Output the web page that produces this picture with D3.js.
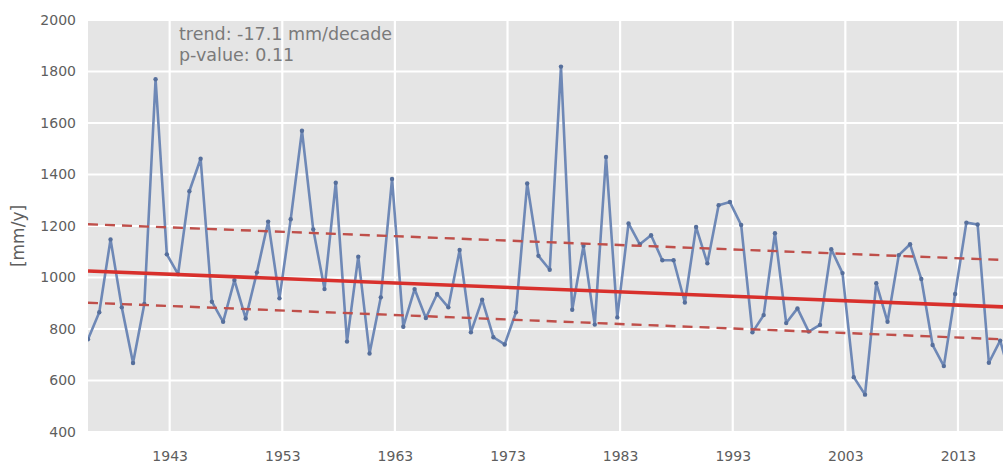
<!DOCTYPE html>
<html>
<head>
<meta charset="utf-8">
<script src="https://cdn.jsdelivr.net/npm/d3@7"></script>
<style>
  html, body { margin: 0; padding: 0; background: #ffffff; }
  svg { display: block; font-family: "DejaVu Sans", sans-serif; }
</style>
</head>
<body>
<svg id="chart" width="1003" height="465"></svg>
<script>
// Annual precipitation totals per hydrological year (Oct 1 of previous year)
const years = [
  1936, 1937, 1938, 1939, 1940, 1941, 1942, 1943, 1944, 1945,
  1946, 1947, 1948, 1949, 1950, 1951, 1952, 1953, 1954, 1955,
  1956, 1957, 1958, 1959, 1960, 1961, 1962, 1963, 1964, 1965,
  1966, 1967, 1968, 1969, 1970, 1971, 1972, 1973, 1974, 1975,
  1976, 1977, 1978, 1979, 1980, 1981, 1982, 1983, 1984, 1985,
  1986, 1987, 1988, 1989, 1990, 1991, 1992, 1993, 1994, 1995,
  1996, 1997, 1998, 1999, 2000, 2001, 2002, 2003, 2004, 2005,
  2006, 2007, 2008, 2009, 2010, 2011, 2012, 2013, 2014, 2015,
  2016, 2017, 2018
];
const precip = [
  760, 865, 1148, 884, 668, 897, 1770, 1090, 1013, 1335,
  1461, 906, 828, 990, 841, 1020, 1217, 919, 1226, 1570,
  1187, 955, 1368, 751, 1081, 705, 923, 1383, 809, 955,
  843, 936, 884, 1107, 787, 914, 768, 740, 865, 1365,
  1084, 1030, 1819, 875, 1123, 817, 1468, 845, 1210, 1129,
  1164, 1067, 1067, 903, 1196, 1055, 1281, 1293, 1204, 787,
  854, 1172, 823, 880, 790, 816, 1110, 1017, 613, 545,
  978, 828, 1087, 1129, 994, 738, 656, 936, 1213, 1206,
  669, 755, 600
];

// Linear trend and its band, given as values at the two ends of the x range
const trendEnds = [1025, 886];
const upperEnds = [1207, 1068];
const lowerEnds = [902, 760];
const trendText = ["trend: -17.1 mm/decade", "p-value: 0.11"];

const xTickYears = [1943, 1953, 1963, 1973, 1983, 1993, 2003, 2013];
const yTicks = [400, 600, 800, 1000, 1200, 1400, 1600, 1800, 2000];
const yLabel = "[mm/y]";

const svg = d3.select("#chart");
const W = 1003, H = 465;
const plot = { left: 88, top: 20, right: 1003, bottom: 432 };
const textColor = "#5e5e5e";

const hydroDate = y => new Date(y - 1, 9, 1);
const xStart = hydroDate(years[0]);
const xEnd = new Date(2017, 0, 1);

const x = d3.scaleTime().domain([xStart, xEnd]).range([plot.left, plot.right]);
const y = d3.scaleLinear().domain([400, 2000]).range([plot.bottom, plot.top]);

// plot background
svg.append("rect")
  .attr("x", plot.left).attr("y", plot.top)
  .attr("width", plot.right - plot.left + 40)
  .attr("height", plot.bottom - plot.top)
  .attr("fill", "#e5e5e5");

svg.append("defs").append("clipPath").attr("id", "plotclip")
  .append("rect")
  .attr("x", plot.left).attr("y", plot.top)
  .attr("width", plot.right - plot.left + 40)
  .attr("height", plot.bottom - plot.top);

// grid
const grid = svg.append("g");
grid.selectAll("line.h").data(yTicks).join("line")
  .attr("class", "h")
  .attr("x1", plot.left).attr("x2", W + 10)
  .attr("y1", d => y(d)).attr("y2", d => y(d))
  .attr("stroke", "#ffffff").attr("stroke-width", 2.2);
grid.selectAll("line.v").data(xTickYears).join("line")
  .attr("class", "v")
  .attr("x1", d => x(new Date(d, 0, 1))).attr("x2", d => x(new Date(d, 0, 1)))
  .attr("y1", plot.top).attr("y2", plot.bottom)
  .attr("stroke", "#ffffff").attr("stroke-width", 2.2);

// axes (labels only, no domain line or tick marks)
const yAxis = d3.axisLeft(y).tickValues(yTicks).tickSize(0).tickPadding(12).tickFormat(d3.format("d"));
svg.append("g").attr("transform", `translate(${plot.left},0)`).call(yAxis)
  .call(g => g.select(".domain").remove())
  .call(g => g.selectAll("text")
    .attr("font-family", "'DejaVu Sans', sans-serif")
    .attr("font-size", 14).attr("fill", textColor));

const xAxis = d3.axisBottom(x).tickValues(xTickYears.map(d => new Date(d, 0, 1)))
  .tickSize(0).tickPadding(19).tickFormat(d3.timeFormat("%Y"));
svg.append("g").attr("transform", `translate(0,${plot.bottom})`).call(xAxis)
  .call(g => g.select(".domain").remove())
  .call(g => g.selectAll("text")
    .attr("font-family", "'DejaVu Sans', sans-serif")
    .attr("font-size", 14).attr("fill", textColor));

svg.append("text")
  .attr("transform", `translate(24,236) rotate(-90)`)
  .attr("text-anchor", "middle")
  .attr("font-size", 17).attr("fill", textColor)
  .text(yLabel);

const layer = svg.append("g").attr("clip-path", "url(#plotclip)");

// series line with point markers
const series = years.map((yr, i) => ({ date: hydroDate(yr), value: precip[i] }));
const line = d3.line().x(d => x(d.date)).y(d => y(d.value));
layer.append("path").datum(series)
  .attr("d", line)
  .attr("fill", "none")
  .attr("stroke", "#6e88b6")
  .attr("stroke-width", 2.6)
  .attr("stroke-linejoin", "round");
layer.selectAll("circle").data(series).join("circle")
  .attr("cx", d => x(d.date)).attr("cy", d => y(d.value))
  .attr("r", 2.2).attr("fill", "#566f9c");

// trend and band lines
const ends = [xStart, xEnd];
const seg = vals => ends.map((d, i) => ({ date: d, value: vals[i] }));
const straight = d3.line().x(d => x(d.date)).y(d => y(d.value));

[upperEnds, lowerEnds].forEach(vals => {
  layer.append("path").datum(seg(vals))
    .attr("d", straight)
    .attr("fill", "none")
    .attr("stroke", "#bf4f4a")
    .attr("stroke-width", 2.4)
    .attr("stroke-dasharray", "10,7");
});
layer.append("path").datum(seg(trendEnds))
  .attr("d", straight)
  .attr("fill", "none")
  .attr("stroke", "#d8302c")
  .attr("stroke-width", 3.6);

// trend annotation
const ann = svg.append("text")
  .attr("x", 179).attr("y", 40)
  .attr("font-size", 17.5).attr("fill", "#7a7a7a");
trendText.forEach((t, i) => {
  ann.append("tspan").attr("x", 179).attr("dy", i === 0 ? 0 : 21).text(t);
});
</script>
</body>
</html>
